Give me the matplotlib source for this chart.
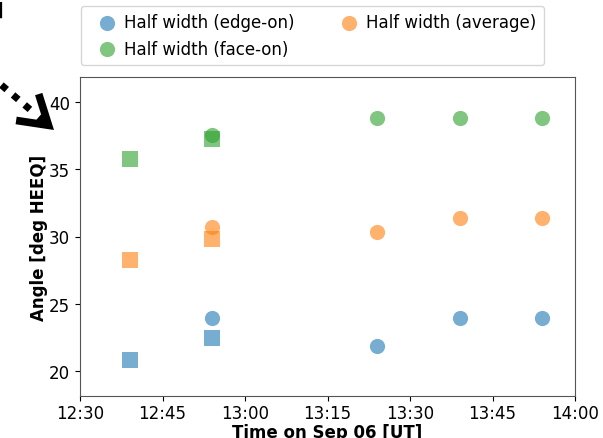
import datetime as dt
import matplotlib
matplotlib.use('Agg')
from matplotlib import pyplot as plt
import matplotlib.dates as mdates

# Times (UT, Sep 06)
t_sq = ['12:39', '12:54']
t_ci = ['12:54', '13:24', '13:39', '13:54']

# Half widths [deg HEEQ], squares
edge_sq = [20.8, 22.4]
avg_sq = [28.25, 29.85]
face_sq = [35.75, 37.3]

# Half widths [deg HEEQ], circles
edge_ci = [23.95, 21.85, 23.95, 23.95]
avg_ci = [30.7, 30.3, 31.4, 31.4]
face_ci = [37.55, 38.85, 38.85, 38.85]


def to_dt(ts):
    return [dt.datetime(2022, 9, 6, int(s[:2]), int(s[3:])) for s in ts]


xs = to_dt(t_sq)
xc = to_dt(t_ci)

W, H = 603, 439
fig = plt.figure(figsize=(W/100, H/100), dpi=100)
ax = fig.add_axes([80/W, 1 - 397/H, 495/W, 319/H])

a = 0.6
ax.scatter(xc, edge_ci, s=120, color='tab:blue', alpha=a, lw=0, label='Half width (edge-on)')
ax.scatter(xc, face_ci, s=120, color='tab:green', alpha=a, lw=0, label='Half width (face-on)')
ax.scatter(xc, avg_ci, s=120, color='tab:orange', alpha=a, lw=0, label='Half width (average)')
ax.scatter(xs, edge_sq, s=120, marker='s', color='tab:blue', alpha=a, lw=0)
ax.scatter(xs, face_sq, s=120, marker='s', color='tab:green', alpha=a, lw=0)
ax.scatter(xs, avg_sq, s=120, marker='s', color='tab:orange', alpha=a, lw=0)

ax.set_xlim(dt.datetime(2022, 9, 6, 12, 30), dt.datetime(2022, 9, 6, 14, 0))
ax.set_ylim(18.1, 41.9)
ax.xaxis.set_major_locator(mdates.MinuteLocator(byminute=[0, 15, 30, 45]))
ax.xaxis.set_major_formatter(mdates.DateFormatter('%H:%M'))
ax.tick_params(labelsize=12)
ax.tick_params(axis='x', pad=2.5)
ax.set_yticks([20, 25, 30, 35, 40])
ax.set_xlabel('Time on Sep 06 [UT]', fontsize=12, fontweight='bold', labelpad=0.5)
ax.set_ylabel('Angle [deg HEEQ]', fontsize=12, fontweight='bold', labelpad=1)
for sp in ax.spines.values():
    sp.set_color('#555555')

fig.legend(loc='upper left', bbox_to_anchor=(81/W, 1 - 7/H), ncol=2,
           fontsize=12, handlelength=2.2, handletextpad=-0.05, columnspacing=2.15,
           borderpad=0.45, borderaxespad=0, labelspacing=0.5)

# dotted arrow pointing into the plot: dotted shaft + solid head
tip = (54, 131)
d = (0.76, 0.65)


def fpt(k):
    return ((tip[0] - k * d[0]) / W, 1 - (tip[1] - k * d[1]) / H)


ax.annotate('', xy=fpt(24), xycoords='figure fraction',
            xytext=fpt(115), textcoords='figure fraction', annotation_clip=False,
            arrowprops=dict(arrowstyle='-', color='black', lw=5,
                            linestyle=(0, (1, 1.2)), capstyle='butt',
                            shrinkA=0, shrinkB=0))
ax.annotate('', xy=fpt(0), xycoords='figure fraction',
            xytext=fpt(20), textcoords='figure fraction', annotation_clip=False,
            arrowprops=dict(arrowstyle='->,head_length=2.0,head_width=1.25',
                            color='black', lw=5.5, shrinkA=0, shrinkB=0,
                            joinstyle='miter', capstyle='butt'))
fig.text(-4/W, 1 - 16/H, ']', fontsize=12, fontweight='bold')

fig.savefig('out.png', dpi=100)
